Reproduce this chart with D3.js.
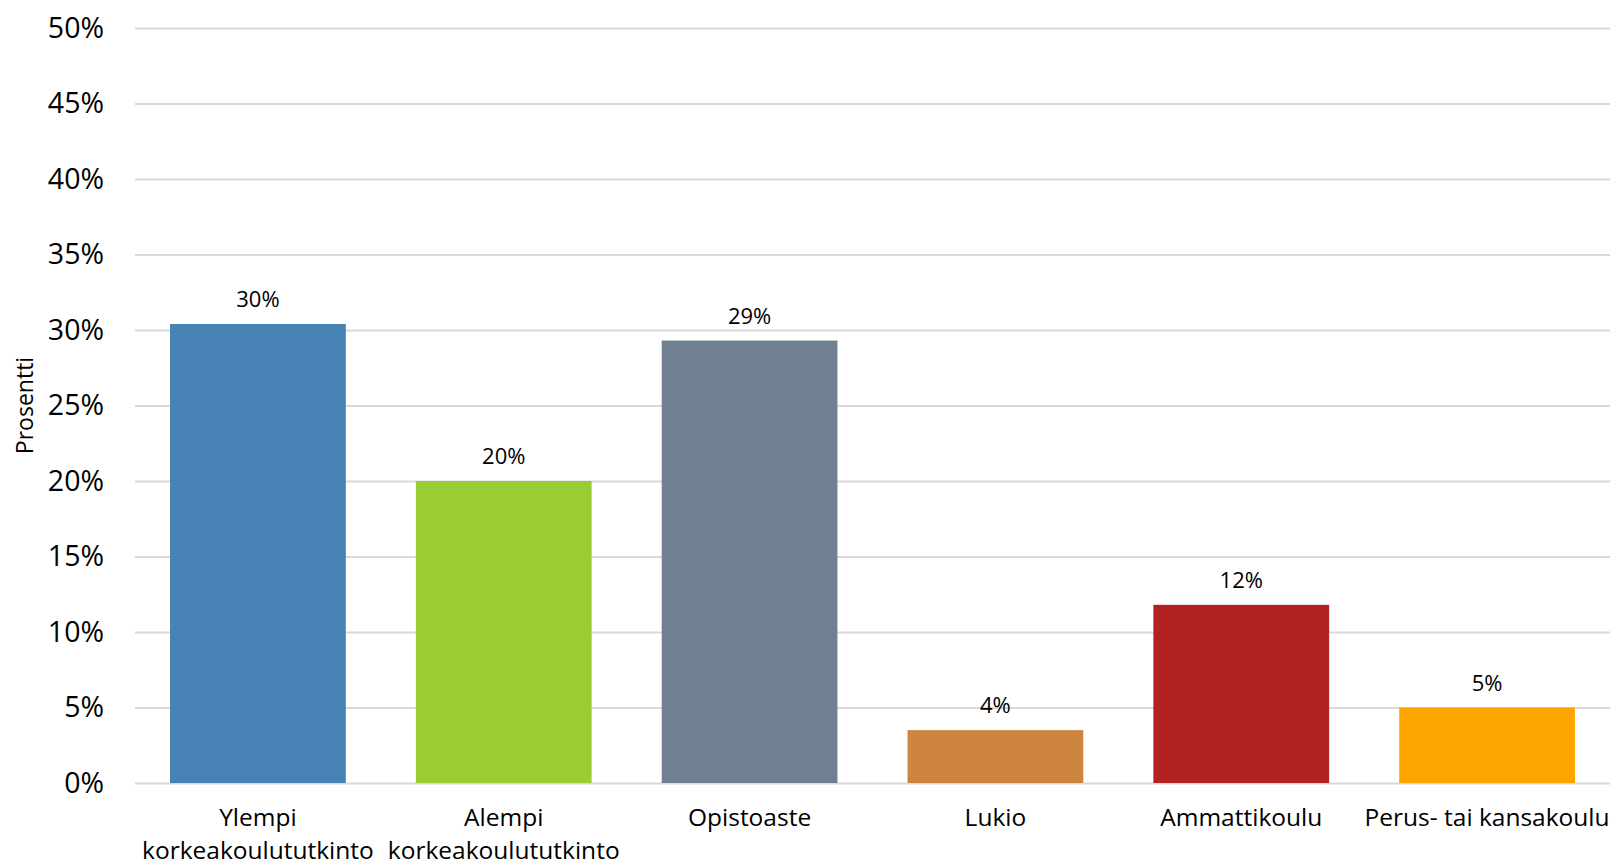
<!DOCTYPE html>
<html><head><meta charset="utf-8">
<script src="https://cdn.jsdelivr.net/npm/d3@7"></script>
<style>body{margin:0;background:#fff;}svg{display:block;}</style>
</head><body>
<script>
const categories = [["Ylempi","korkeakoulututkinto"],["Alempi","korkeakoulututkinto"],["Opistoaste"],["Lukio"],["Ammattikoulu"],["Perus- tai kansakoulu"]];
const values = [30.4, 20.0, 29.3, 3.5, 11.8, 5.0];
const labels = ["30%","20%","29%","4%","12%","5%"];
const colors = ["#4682B4","#9ACD32","#708090","#CD853F","#B22222","#FFA500"];
const yTicks = [0,5,10,15,20,25,30,35,40,45,50];
const yTitle = "Prosentti";

const W=1613,H=866;
const m={left:135,right:3,top:28,bottom:83};
const svg=d3.select("body").append("svg").attr("width",W).attr("height",H);
const x=d3.scaleBand().domain(d3.range(categories.length)).range([m.left,W-m.right]).paddingInner(0.285).paddingOuter(0.1425);
const y=d3.scaleLinear().domain([0,50]).range([H-m.bottom,m.top]);
const font="'Open Sans', sans-serif";

const ya=svg.append("g").attr("transform",`translate(${m.left},0)`)
 .call(d3.axisLeft(y).tickValues(yTicks).tickFormat(d=>d+"%").tickSize(-(W-m.left-m.right)).tickPadding(31));
ya.select(".domain").remove();
ya.selectAll(".tick line").attr("stroke","#d9d9d9").attr("stroke-width",2);
ya.selectAll(".tick text").attr("font-family",font).attr("font-size",28.5).attr("fill","#000");

svg.append("g").selectAll("rect").data(values).join("rect")
 .attr("x",(d,i)=>x(i)).attr("width",x.bandwidth())
 .attr("y",d=>y(d)).attr("height",d=>y(0)-y(d))
 .attr("fill",(d,i)=>colors[i]);

svg.append("g").selectAll("text").data(values).join("text")
 .attr("x",(d,i)=>x(i)+x.bandwidth()/2).attr("y",d=>y(d)-17)
 .attr("text-anchor","middle").attr("font-family",font).attr("font-size",22).attr("fill","#000")
 .text((d,i)=>labels[i]);

const cl=svg.append("g").selectAll("text").data(categories).join("text")
 .attr("x",(d,i)=>x(i)+x.bandwidth()/2).attr("y",826)
 .attr("text-anchor","middle").attr("font-family",font).attr("font-size",24.5).attr("fill","#000");
cl.each(function(d){
  const t=d3.select(this);
  d.forEach((s,j)=>t.append("tspan").attr("x",t.attr("x")).attr("dy",j?33:0).text(s));
});

svg.append("text").attr("transform",`translate(33,${(y(0)+y(50))/2}) rotate(-90)`)
 .attr("text-anchor","middle").attr("font-family",font).attr("font-size",23).attr("fill","#000").text(yTitle);
</script>
</body></html>
